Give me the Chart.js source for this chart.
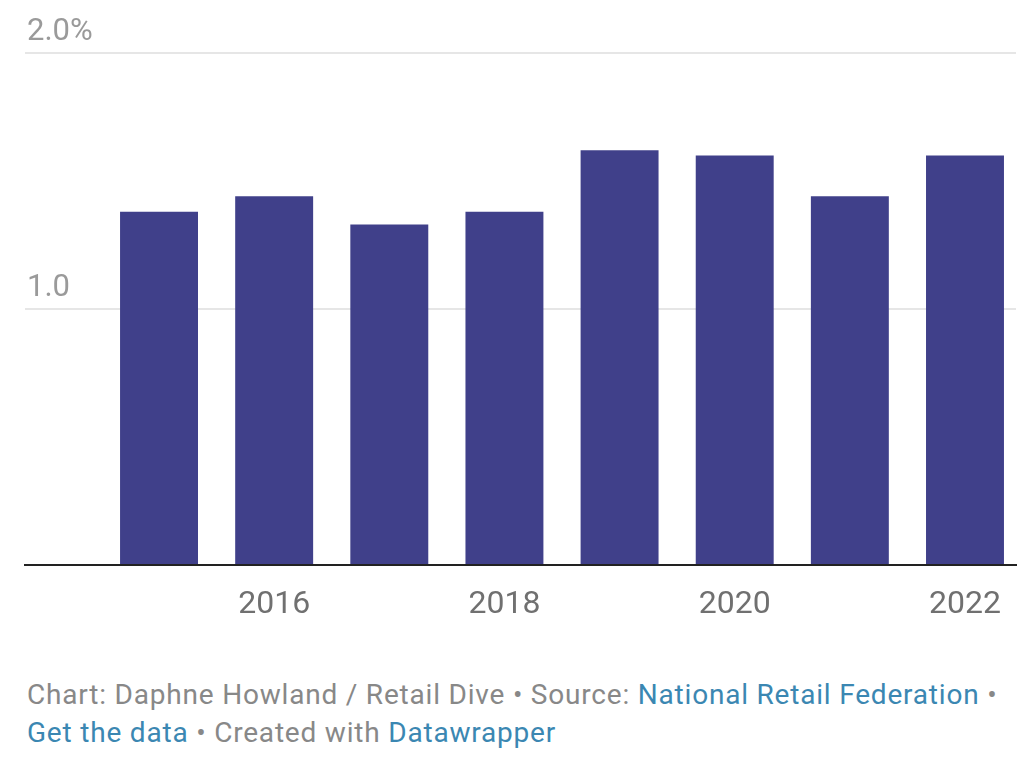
<!DOCTYPE html>
<html>
<head>
<meta charset="utf-8">
<script src="https://cdn.jsdelivr.net/npm/chart.js@4"></script>
<style>
  html, body { margin: 0; padding: 0; background: #fff; }
  body { width: 1024px; height: 781px; position: relative; overflow: hidden; font-family: Roboto, sans-serif; }
  #wrap { position: absolute; left: 0; top: 0; width: 1024px; height: 640px; }
  #footer { position: absolute; left: 27px; top: 676px; width: 995px; font-size: 28px; letter-spacing: 0.8px; line-height: 38px; color: #888888; white-space: nowrap; }
  #footer a { color: #3b87b2; text-decoration: none; }
</style>
</head>
<body>
<div id="wrap"><canvas id="c" width="1024" height="640"></canvas></div>
<div id="footer">Chart: Daphne Howland / Retail Dive • Source: <a>National Retail Federation</a> •<br><a>Get the data</a> • Created with <a>Datawrapper</a></div>
<script>
const years = [2015, 2016, 2017, 2018, 2019, 2020, 2021, 2022];
const values = [1.38, 1.44, 1.33, 1.38, 1.62, 1.60, 1.44, 1.60];
const xTickValues = [2016, 2018, 2020, 2022];
const xTickLabels = ['2016', '2018', '2020', '2022'];
const yTickValues = [0, 1, 2];
const yTickLabels = ['', '1.0', '2.0%'];

new Chart(document.getElementById('c'), {
  type: 'bar',
  data: {
    datasets: [{
      data: years.map((y, i) => ({ x: y, y: values[i] })),
      backgroundColor: '#40408a',
      borderWidth: 0,
      categoryPercentage: 1,
      barPercentage: 0.677
    }]
  },
  options: {
    responsive: false,
    animation: false,
    layout: { padding: { left: 25, right: 8, top: 53, bottom: 0 } },
    plugins: { legend: { display: false }, tooltip: { enabled: false } },
    scales: {
      x: {
        type: 'linear',
        offset: false,
        min: 2013.836,
        max: 2022.443,
        grid: { display: false, offset: false },
        border: { display: true, color: '#222222', width: 2 },
        afterBuildTicks: s => { s.ticks = xTickValues.map(v => ({ value: v })); },
        afterFit: s => { s.height = 75; },
        ticks: {
          autoSkip: false,
          maxRotation: 0,
          padding: 13,
          color: '#707070',
          font: { family: 'Roboto', size: 32 },
          callback: v => xTickLabels[xTickValues.indexOf(v)]
        }
      },
      y: {
        min: 0,
        max: 2,
        afterBuildTicks: s => { s.ticks = yTickValues.map(v => ({ value: v })); },
        afterFit: s => { s.width = 0; },
        grid: {
          drawTicks: false,
          lineWidth: 2,
          color: ctx => (ctx.tick && ctx.tick.value === 0) ? 'rgba(0,0,0,0)' : '#e6e6e6'
        },
        border: { display: false },
        ticks: {
          mirror: true,
          padding: 2,
          labelOffset: -21,
          color: '#9a9a9a',
          font: { family: 'Roboto', size: 31 },
          callback: v => yTickLabels[yTickValues.indexOf(v)]
        }
      }
    }
  }
});
</script>
</body>
</html>
